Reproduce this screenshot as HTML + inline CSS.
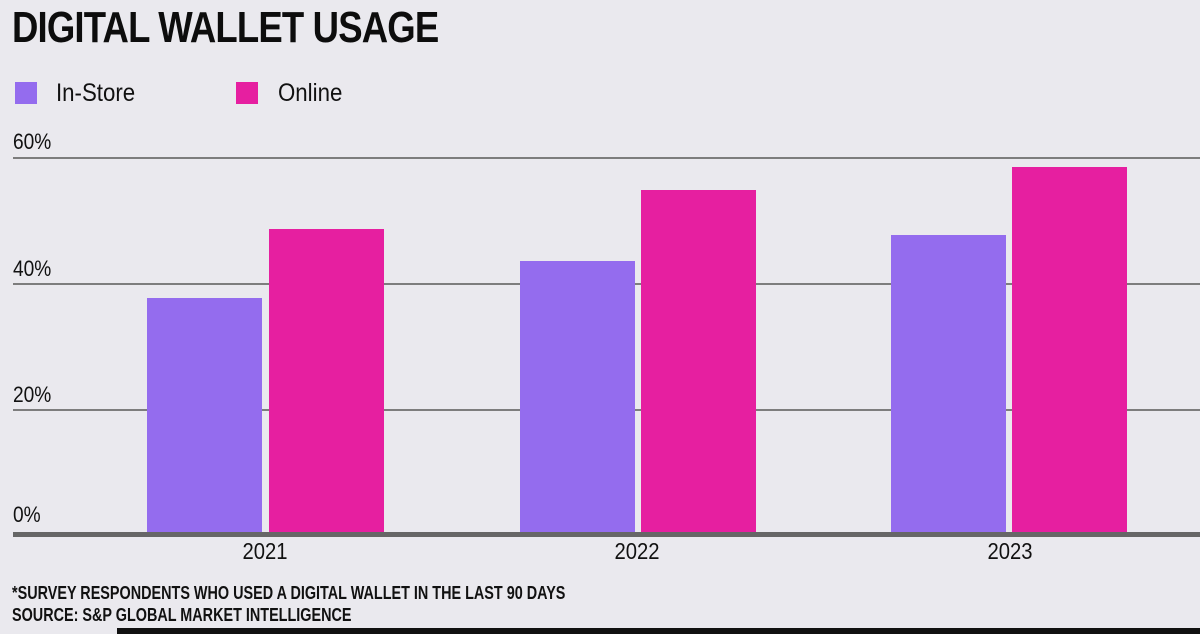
<!DOCTYPE html>
<html><head><meta charset="utf-8"><style>
html,body{margin:0;padding:0}
body{width:1200px;height:634px;background:#eae9ee;position:relative;overflow:hidden;font-family:"Liberation Sans",sans-serif;color:#111}
.a{position:absolute;white-space:nowrap}
.t{left:12px;top:3px;font-size:44px;font-weight:bold;letter-spacing:-1px;color:#0d0d0d;transform:scaleX(0.83);transform-origin:0 0}
.sq{width:22px;height:22px}
.lg{font-size:25px;top:79px;transform:scaleX(0.89);transform-origin:0 0}
.tk{font-size:22px;left:13px;transform:scaleX(0.87);transform-origin:0 0}
.g{left:13px;width:1187px;height:2px;background:#7d7d7d}
.yr{font-size:23px;width:120px;text-align:center;top:538px;transform:scaleX(0.88)}
.fn{font-size:18px;font-weight:bold;left:12px;color:#111;transform:scaleX(0.8);transform-origin:0 0}
.p{background:#946cee}.k{background:#e61fa0}
</style></head><body>
<div class="a t">DIGITAL WALLET USAGE</div>
<div class="a sq p" style="left:15px;top:82px"></div>
<div class="a lg" style="left:56px">In-Store</div>
<div class="a sq k" style="left:236px;top:82px"></div>
<div class="a lg" style="left:278px">Online</div>
<div class="a tk" style="top:129px">60%</div>
<div class="a tk" style="top:256px">40%</div>
<div class="a tk" style="top:382px">20%</div>
<div class="a tk" style="top:502px">0%</div>
<div class="a g" style="top:157px"></div>
<div class="a g" style="top:283px"></div>
<div class="a g" style="top:409px"></div>
<div class="a p" style="left:147px;top:298px;width:115px;height:236px"></div>
<div class="a k" style="left:269px;top:229px;width:115px;height:305px"></div>
<div class="a p" style="left:520px;top:261px;width:115px;height:273px"></div>
<div class="a k" style="left:641px;top:190px;width:115px;height:344px"></div>
<div class="a p" style="left:891px;top:235px;width:115px;height:299px"></div>
<div class="a k" style="left:1012px;top:167px;width:115px;height:367px"></div>
<div class="a" style="left:13px;top:532px;width:1187px;height:5px;background:#666"></div>
<div class="a yr" style="left:205px">2021</div>
<div class="a yr" style="left:577px">2022</div>
<div class="a yr" style="left:950px">2023</div>
<div class="a fn" style="top:583px">*SURVEY RESPONDENTS WHO USED A DIGITAL WALLET IN THE LAST 90 DAYS</div>
<div class="a fn" style="top:605px">SOURCE: S&amp;P GLOBAL MARKET INTELLIGENCE</div>
<div class="a" style="left:117px;top:628px;width:1083px;height:6px;background:#111"></div>
</body></html>
